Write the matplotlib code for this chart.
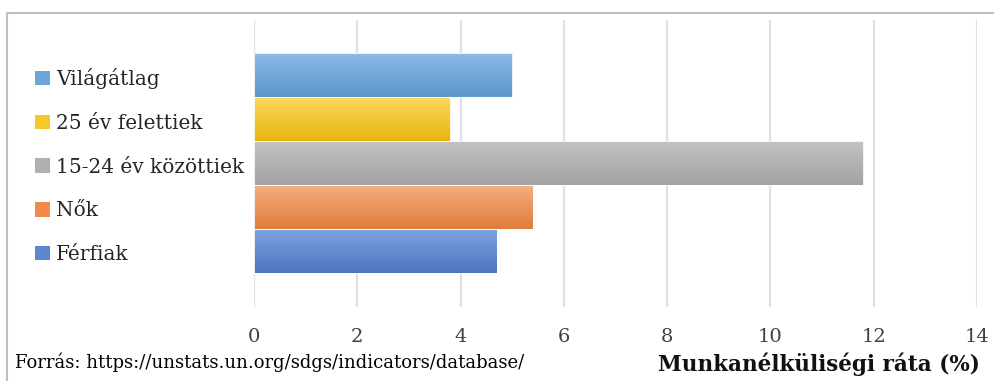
import numpy as np
import matplotlib
matplotlib.use("Agg")
import matplotlib.pyplot as plt
from matplotlib.colors import LinearSegmentedColormap
from matplotlib.patches import Patch, Rectangle

# data (bottom to top as drawn)
groups = ["Férfiak", "Nők", "15-24 év közöttiek", "25 év felettiek", "Világátlag"]
rates = [4.7, 5.4, 11.8, 3.8, 5.0]
grad_colors = [
    ("#7EA3E0", "#4C75C2"),
    ("#F5AE80", "#E07D3A"),
    ("#C3C3C3", "#A2A2A2"),
    ("#FFD65E", "#E5B70E"),
    ("#8CBAE7", "#5C97CD"),
]
legend_colors = ["#5B86D0", "#F08B4C", "#B0B0B0", "#F7C82A", "#6FA6DA"]
xticks = [0, 2, 4, 6, 8, 10, 12, 14]
source = "Forrás: https://unstats.un.org/sdgs/indicators/database/"
xlabel = "Munkanélküliségi ráta (%)"

plt.rcParams["font.family"] = ["DejaVu Serif"]

fig = plt.figure(figsize=(9.95, 3.81), dpi=100)
ax = fig.add_axes([254 / 995, 74 / 381, 723 / 995, 287 / 381])

bars = ax.barh(range(len(groups)), rates, height=1.0, color="none",
               edgecolor="#FFFFFF", linewidth=0.6, zorder=3)

grad = np.linspace(0, 1, 100).reshape(-1, 1)
for bar, (top, bottom) in zip(bars, grad_colors):
    cmap = LinearSegmentedColormap.from_list("g", [bottom, top])
    x0, y0 = bar.get_x(), bar.get_y()
    im = ax.imshow(grad, cmap=cmap, aspect="auto", origin="lower",
                   extent=[x0, x0 + bar.get_width(), y0, y0 + bar.get_height()],
                   zorder=2)
    im.set_clip_path(bar)

ax.set_xlim(0, 14)
ax.set_ylim(-1.273, 5.25)
ax.set_xticks(xticks)
ax.set_xticklabels([str(t) for t in xticks])
ax.set_yticks([])
ax.tick_params(axis="x", length=0, pad=15, labelsize=14, labelcolor="#404040")
ax.grid(axis="x", color="#DDE2EA", linewidth=1.6, zorder=0)
ax.set_axisbelow(True)
for s in ax.spines.values():
    s.set_visible(False)

handles = [Patch(facecolor=c, edgecolor="none") for c in legend_colors]
leg = fig.legend(handles[::-1], groups[::-1], loc="upper left",
                 bbox_to_anchor=(17 / 995, 1 - 50 / 381), frameon=False,
                 fontsize=14.5, labelspacing=1.23, handlelength=0.72,
                 handleheight=0.72, handletextpad=0.33)
for t in leg.get_texts():
    t.set_color("#262626")

fig.text(15 / 995, 1 - 362 / 381, source, fontsize=13, color="#000000",
         va="center", ha="left")
fig.text(980 / 995, 1 - 364 / 381, xlabel, fontsize=15.5, fontweight="bold",
         color="#111111", va="center", ha="right")

# outer frame of the chart area
fig.patches.append(Rectangle((7 / 995, -0.1), 1.2, 1 - 13 / 381 + 0.1,
                             transform=fig.transFigure, fill=False,
                             edgecolor="#BFBFBF", linewidth=1.5))

fig.savefig("out.png", dpi=100)
